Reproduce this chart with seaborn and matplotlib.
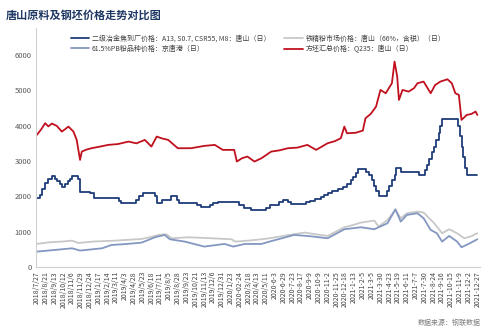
import matplotlib
matplotlib.use("Agg")
import matplotlib.pyplot as plt
import seaborn as sns
import pandas as pd
from matplotlib.lines import Line2D

# ---------------- data ----------------
tick_labels = [
    "2018/7/27", "2018/8/21", "2018/9/13", "2018/10/12", "2018/11/6", "2018/11/29",
    "2018/12/24", "2019/1/17", "2019/2/14", "2019/3/11", "2019/4/3", "2019/4/28",
    "2019/5/23", "2019/6/18", "2019/7/11", "2019/8/5", "2019/8/28", "2019/9/23",
    "2019/10/21", "2019/11/13", "2019/12/6", "2019/12/31", "2020/1/23", "2020-02-24",
    "2020/3/18", "2020/4/13", "2020/5/11", "2020-6-3", "2020-6-29", "2020-7-23",
    "2020-8-17", "2020-9-9", "2020-10-9", "2020-11-2", "2020-11-25", "2020-12-18",
    "2021-1-13", "2021-2-5", "2021-3-5", "2021-3-30", "2021-4-23", "2021-5-19",
    "2021-6-11", "2021-7-7", "2021-7-30", "2021-8-24", "2021-9-16", "2021-10-15",
    "2021-11-9", "2021-12-2", "2021-12-27",
]

# coke (二级冶金焦) - step series; t in tick-index units
coke_t = [0, 0.3, 0.6, 0.9, 1.3, 1.7, 2.0, 2.3, 2.6, 2.9, 3.2, 3.5, 3.8, 4.0, 4.7, 4.9,
          6.0, 6.5, 9.3, 9.6, 11.3, 11.6, 12.0, 13.4, 13.6, 14.2, 15.2, 15.9, 16.1,
          18.2, 18.6, 19.6, 20.0, 20.6, 22.9, 23.5, 24.3, 26.0, 26.5, 27.5, 27.9,
          28.5, 28.8, 30.5, 31.0, 31.6, 32.2, 32.6, 33.0, 33.5, 34.2, 34.7, 35.2,
          35.6, 35.9, 36.2, 36.5, 37.4, 37.7, 38.0, 38.3, 38.5, 38.8, 39.8, 40.0,
          40.3, 40.6, 40.8, 41.3, 43.4, 44.0, 44.3, 44.5, 44.8, 45.1, 45.3, 45.6,
          45.8, 46.0, 47.8, 48.0, 48.2, 48.4, 48.6, 48.8, 50.0]
coke_v = [1950, 2050, 2200, 2370, 2480, 2580, 2500, 2430, 2350, 2270, 2350, 2420, 2500, 2580, 2500, 2130,
          2080, 1950, 1870, 1820, 1900, 2000, 2100, 2000, 1810, 1900, 2010, 1900, 1810,
          1760, 1710, 1760, 1810, 1850, 1760, 1660, 1610, 1660, 1760, 1830, 1900,
          1830, 1780, 1830, 1880, 1930, 1980, 2040, 2090, 2140, 2200, 2250, 2350,
          2450, 2550, 2650, 2780, 2700, 2600, 2450, 2300, 2150, 2000, 2150, 2300,
          2450, 2600, 2800, 2700, 2600, 2750, 2900, 3050, 3250, 3400, 3600, 3800,
          4000, 4200, 4000, 3700, 3400, 3100, 2800, 2600, 2600]

# iron concentrate (铁精粉 唐山 66%)
ore_t = [0, 1.5, 3.0, 4.0, 4.7, 6.5, 8.9, 10.5, 11.9, 13.0, 13.8, 14.7, 15.3, 17.2,
         19.8, 22.1, 22.5, 24.0, 25.5, 26.4, 28.5, 30.4, 31.5, 33.0, 34.9, 35.8,
         36.8, 38.3, 38.8, 39.8, 40.7, 41.3, 42.0, 43.2, 43.9, 45.1, 46.0, 46.8,
         47.7, 48.5, 49.2, 50.0]
ore_v = [651, 700, 720, 745, 679, 720, 745, 770, 793, 850, 906, 925, 812, 840,
         812, 783, 717, 745, 784, 812, 900, 973, 930, 878, 1124, 1180,
         1256, 1313, 1143, 1332, 1615, 1379, 1520, 1567, 1539, 1237, 954, 1067,
         954, 812, 859, 954]

# PB fines (61.5%PB粉 京唐港)
pb_t = [0, 2.0, 4.0, 4.9, 7.4, 8.5, 10.2, 11.9, 13.4, 14.5, 15.1, 16.8, 19.0,
        21.3, 22.3, 23.6, 25.5, 26.4, 29.2, 31.0, 33.0, 34.9, 36.8, 38.3, 39.8,
        40.7, 41.3, 42.0, 43.2, 43.9, 44.7, 45.4, 46.0, 46.8, 47.7, 48.2, 49.0, 50.0]
pb_v = [434, 480, 528, 463, 528, 623, 650, 689, 840, 906, 783, 717, 576,
        651, 576, 651, 651, 717, 906, 870, 812, 1067, 1124, 1067, 1237,
        1634, 1284, 1473, 1520, 1379, 1049, 954, 717, 878, 717, 557, 651, 784]

# billet (方坯 Q235 唐山)
billet_t = [0, 0.5, 0.94, 1.3, 1.7, 2.26, 2.83, 3.2, 3.58, 4.15, 4.52, 4.9, 5.1, 5.6,
            6.2, 7.0, 8.1, 9.2, 10.4, 11.3, 12.25, 13.0, 13.6, 14.2, 14.9, 16.0, 17.5,
            19.0, 20.2, 21.1, 22.4, 22.7, 23.3, 23.9, 24.7, 25.5, 26.6, 27.5, 28.5,
            29.6, 30.7, 31.7, 33.0, 33.8, 34.5, 34.9, 35.2, 36.2, 37.0, 37.3, 37.9,
            38.5, 39.0, 39.6, 40.3, 40.6, 40.9, 41.1, 41.5, 42.2, 42.8, 43.2, 43.9,
            44.7, 45.2, 45.8, 46.6, 47.1, 47.5, 47.9, 48.2, 48.8, 49.3, 49.8, 50.0]
billet_v = [3739, 3900, 4070, 3980, 4060, 3995, 3833, 3900, 3975, 3833, 3598, 3031, 3267, 3320,
            3362, 3400, 3456, 3480, 3550, 3500, 3598, 3409, 3692, 3640, 3598, 3362, 3362,
            3428, 3456, 3315, 3315, 2985, 3080, 3126, 2985, 3079, 3267, 3300, 3362,
            3380, 3456, 3315, 3503, 3560, 3645, 3975, 3786, 3800, 3861, 4211, 4334,
            4541, 5013, 4919, 5202, 5816, 5391, 4730, 5013, 4966, 5060, 5202, 5249,
            4919, 5150, 5249, 5315, 5202, 4919, 4872, 4164, 4305, 4330, 4400, 4305]

series_names = [
    "二级冶金焦到厂价格：A13, S0.7, CSR55, M8：唐山（日）",
    "61.5%PB粉品种价格：京唐港（日）",
    "铁精粉市场价格：唐山（66%，含税）（日）",
    "方坯汇总价格：Q235：唐山（日）",
]

# ---------------- plot ----------------
sns.set_style("white")
plt.rcParams["font.family"] = ["Noto Sans CJK SC", "DejaVu Sans"]

fig = plt.figure(figsize=(5.0, 3.32), dpi=100)
ax = fig.add_axes([0.072, 0.196, 0.888, 0.72])

c_coke = "#1F3C7A"
c_pb = "#8497C0"
c_ore = "#C8C8C8"
c_billet = "#C0111F"

sns.lineplot(x=ore_t, y=ore_v, ax=ax, color=c_ore, lw=1.3, sort=False, estimator=None)
sns.lineplot(x=pb_t, y=pb_v, ax=ax, color=c_pb, lw=1.3, sort=False, estimator=None)
sns.lineplot(x=coke_t, y=coke_v, ax=ax, color=c_coke, lw=1.3, sort=False,
             estimator=None, drawstyle="steps-post")
sns.lineplot(x=billet_t, y=billet_v, ax=ax, color=c_billet, lw=1.3, sort=False, estimator=None)

ax.set_xlim(-0.1, 50.3)
ax.set_ylim(0, 6770)
ax.set_xticks(range(len(tick_labels)))
ax.set_xticklabels(tick_labels, rotation=90, fontsize=5, color="#404040")
ax.set_yticks([0, 1000, 2000, 3000, 4000, 5000, 6000])
ax.set_yticklabels(["0", "1000", "2000", "3000", "4000", "5000", "6000"], fontsize=5.5, color="#595959")
ax.tick_params(axis="both", length=0, pad=3)
ax.set_xlabel("")
ax.set_ylabel("")
for s in ["top", "right"]:
    ax.spines[s].set_visible(False)
for s in ["left", "bottom"]:
    ax.spines[s].set_color("#D0D0D0")
    ax.spines[s].set_linewidth(0.8)
ax.grid(False)

handles = [
    Line2D([0], [0], color=c_coke, lw=1.3),
    Line2D([0], [0], color=c_pb, lw=1.3),
    Line2D([0], [0], color=c_ore, lw=1.3),
    Line2D([0], [0], color=c_billet, lw=1.3),
]
fig.legend(handles, series_names, ncol=2, loc="upper left",
           bbox_to_anchor=(0.13, 0.915), frameon=False, fontsize=5,
           handlelength=2.6, handletextpad=0.4, columnspacing=2.0,
           labelspacing=0.35, labelcolor="#404040")

fig.text(0.012, 0.955, "唐山原料及钢坯价格走势对比图", fontsize=8, fontweight="bold",
         color="#1F3864", ha="left", va="center")
fig.text(0.962, 0.028, "数据来源：钢联数据", fontsize=5, color="#808080",
         ha="right", va="center")

fig.savefig("out.png", dpi=100)
